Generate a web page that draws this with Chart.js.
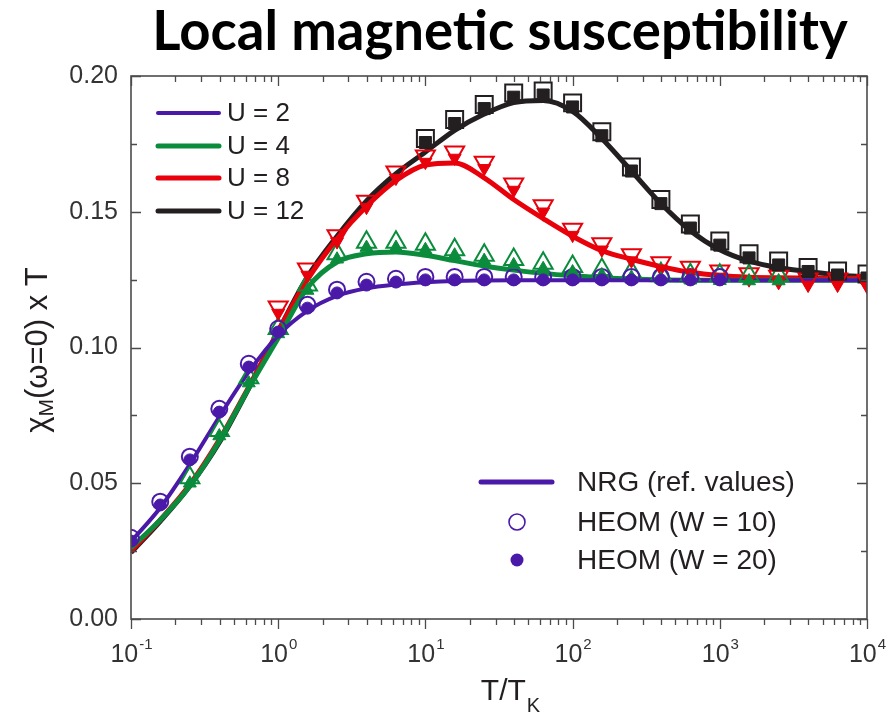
<!DOCTYPE html>
<html>
<head>
<meta charset="utf-8">
<script src="https://cdn.jsdelivr.net/npm/chart.js@4.4.1/dist/chart.umd.min.js"></script>
<style>
  html, body { margin: 0; padding: 0; background: #fff; }
  #wrap { width: 886px; height: 716px; }
</style>
</head>
<body>
<div id="wrap"><canvas id="chart" width="886" height="716"></canvas></div>
<script>
// T/TK values of the HEOM points (5 per decade) and NRG curve samples
var tOverTk = [0.1, 0.158, 0.251, 0.398, 0.631, 1, 1.58, 2.51, 3.98, 6.31,
               10, 15.8, 25.1, 39.8, 63.1, 100, 158, 251, 398, 631,
               1000, 1580, 2510, 3980, 6310, 10000];

var uLabels = ['U = 2', 'U = 4', 'U = 8', 'U = 12'];
var xTickExp = [-1, 0, 1, 2, 3, 4];
var yTicks = [0.00, 0.05, 0.10, 0.15, 0.20];

// NRG reference curves, chi_M(w=0) x T
var nrgU2  = [0.0285, 0.041, 0.057, 0.0745, 0.091, 0.1045, 0.1135, 0.119, 0.1218, 0.1232,
              0.124, 0.1245, 0.1247, 0.1248, 0.1248, 0.1248, 0.1248, 0.1248, 0.1248, 0.1248,
              0.1248, 0.1248, 0.1248, 0.1248, 0.1248, 0.1248];
var nrgU4  = [0.0262, 0.0365, 0.049, 0.0655, 0.085, 0.1035, 0.122, 0.1315, 0.1345, 0.1352,
              0.134, 0.132, 0.130, 0.1285, 0.1273, 0.1264, 0.1257, 0.1252, 0.1249, 0.1248,
              0.1248, 0.1248, 0.1248, 0.1248, 0.1248, 0.1248];
var nrgU8  = [0.025, 0.0365, 0.0495, 0.066, 0.0855, 0.106, 0.125, 0.140, 0.152, 0.1615,
              0.1672, 0.168, 0.1625, 0.1545, 0.1475, 0.141, 0.1357, 0.1325, 0.1298, 0.1277,
              0.1265, 0.1259, 0.1257, 0.1256, 0.1255, 0.1255];
var nrgU12 = [0.0245, 0.036, 0.049, 0.065, 0.085, 0.106, 0.126, 0.141, 0.154, 0.164,
              0.172, 0.180, 0.186, 0.1902, 0.191, 0.187, 0.177, 0.165, 0.153, 0.143,
              0.136, 0.1318, 0.1294, 0.128, 0.1267, 0.126];

// HEOM, W = 20 (filled symbols)
var heomW20U2  = [0.0287, 0.042, 0.0586, 0.0762, 0.0928, 0.1057, 0.1145, 0.1201, 0.123, 0.1241,
                  0.1249, 0.1249, 0.1249, 0.1249, 0.1249, 0.1249, 0.1249, 0.1249, 0.1249, 0.1249,
                  0.1249, null, null, null, null, null];
var heomW20U4  = [null, null, 0.050, 0.0674, 0.0869, 0.105, 0.121, 0.1325, 0.1368, 0.1368,
                  0.136, 0.134, 0.132, 0.1304, 0.129, 0.1278, 0.1267, 0.1258, 0.1252, 0.1248,
                  0.1246, 0.1245, 0.1245, null, null, null];
var heomW20U8  = [null, null, null, null, null, 0.1127, 0.1267, 0.139, 0.1517, 0.1624,
                  0.1683, 0.1698, 0.166, 0.158, 0.150, 0.1414, 0.136, 0.132, 0.129, 0.1274,
                  0.126, 0.125, 0.124, 0.123, 0.123, 0.1225];
var heomW20U12 = [null, null, null, null, null, null, null, null, null, null,
                  0.1755, 0.1825, 0.188, 0.1922, 0.193, 0.1886, 0.178, 0.165, 0.153, 0.144,
                  0.1377, 0.133, 0.1304, 0.128, 0.1267, 0.1256];

// HEOM, W = 10 (open symbols)
var heomW10U2  = [0.0299, 0.0432, 0.0598, 0.0774, 0.094, 0.1069, 0.1157, 0.1213, 0.1242, 0.1253,
                  0.126, 0.126, 0.126, 0.126, 0.126, 0.126, 0.126, 0.126, 0.126, 0.126,
                  0.126, null, null, null, null, null];
var heomW10U4  = [null, null, 0.052, 0.0694, 0.0889, 0.107, 0.123, 0.1345, 0.1388, 0.1388,
                  0.138, 0.136, 0.134, 0.1324, 0.131, 0.1298, 0.1287, 0.1278, 0.1272, 0.1268,
                  0.1266, 0.1265, 0.1265, null, null, null];
var heomW10U8  = [null, null, null, null, null, 0.1149, 0.1289, 0.1412, 0.1539, 0.1646,
                  0.1705, 0.172, 0.1682, 0.1602, 0.1522, 0.1436, 0.1382, 0.1342, 0.1312, 0.1296,
                  0.1282, 0.1272, 0.1262, 0.1252, 0.1252, 0.1247];
var heomW10U12 = [null, null, null, null, null, null, null, null, null, null,
                  0.177, 0.184, 0.1895, 0.1937, 0.1945, 0.1901, 0.1795, 0.1665, 0.1545, 0.1455,
                  0.1392, 0.1345, 0.1319, 0.1295, 0.1282, 0.1271];

var nrg = [nrgU2, nrgU4, nrgU8, nrgU12];
var heomW20 = [heomW20U2, heomW20U4, heomW20U8, heomW20U12];
var heomW10 = [heomW10U2, heomW10U4, heomW10U8, heomW10U12];

var colors = ['#4a19a8', '#0a8c3c', '#e8000b', '#231f20'];
var lineWidths = [4, 5, 5, 5];
var styles = ['circle', 'triangle', 'triangle', 'rect'];
var rotations = [0, 0, 180, 0];
var openRadius = [8, 11, 11, 12];
var filledRadius = [6, 7.5, 7.5, 8.5];

var axisColor = '#4d4a4a';
var textColor = '#231f20';
var sans = '"Liberation Sans", Arial, sans-serif';

function points(ys) {
  var out = [];
  for (var i = 0; i < tOverTk.length; i++) {
    if (ys[i] !== null) out.push({ x: tOverTk[i], y: ys[i] });
  }
  return out;
}

var datasets = [];
for (var i = 0; i < 4; i++) {
  datasets.push({
    label: 'HEOM (W = 20) ' + uLabels[i],
    data: points(heomW20[i]),
    showLine: false,
    pointStyle: styles[i],
    pointRotation: rotations[i],
    pointRadius: filledRadius[i],
    pointBackgroundColor: colors[i],
    pointBorderColor: colors[i],
    pointBorderWidth: 1,
    order: 1
  });
}
for (var i = 0; i < 4; i++) {
  datasets.push({
    label: 'HEOM (W = 10) ' + uLabels[i],
    data: points(heomW10[i]),
    showLine: false,
    pointStyle: styles[i],
    pointRotation: rotations[i],
    pointRadius: openRadius[i],
    pointBackgroundColor: 'rgba(255,255,255,0)',
    pointBorderColor: colors[i],
    pointBorderWidth: 2,
    order: 2
  });
}
for (var i = 0; i < 4; i++) {
  datasets.push({
    label: uLabels[i],
    data: points(nrg[i]),
    borderColor: colors[i],
    borderWidth: lineWidths[i],
    pointRadius: 0,
    cubicInterpolationMode: 'monotone',
    fill: false,
    order: 3
  });
}

// frame, inward/outward tick marks, x tick labels, axis titles, legends, title
var decorPlugin = {
  id: 'decor',
  afterDraw: function (chart) {
    var ctx = chart.ctx;
    var a = chart.chartArea;
    var xs = chart.scales.x;
    var ys = chart.scales.y;
    ctx.save();

    // frame
    ctx.strokeStyle = axisColor;
    ctx.lineWidth = 1.6;
    ctx.strokeRect(a.left, a.top, a.right - a.left, a.bottom - a.top);

    // x ticks: bottom outward, top inward
    ctx.lineWidth = 1.3;
    ctx.beginPath();
    for (var k = -1; k <= 4; k++) {
      for (var m = 1; m <= 9; m++) {
        var v = m * Math.pow(10, k);
        if (v > 10000) break;
        var px = Math.round(xs.getPixelForValue(v)) + 0.5;
        var len = m === 1 ? 10 : 6;
        ctx.moveTo(px, a.bottom); ctx.lineTo(px, a.bottom + len);
        ctx.moveTo(px, a.top); ctx.lineTo(px, a.top + len);
      }
    }
    // y ticks: both sides inward
    for (var j = 0; j <= 8; j++) {
      var yv = j * 0.025;
      var py = Math.round(ys.getPixelForValue(yv)) + 0.5;
      var ylen = j % 2 === 0 ? 10 : 6;
      ctx.moveTo(a.left, py); ctx.lineTo(a.left + ylen, py);
      ctx.moveTo(a.right, py); ctx.lineTo(a.right - ylen, py);
    }
    ctx.stroke();

    // x tick labels 10^k
    ctx.fillStyle = '#333';
    ctx.textBaseline = 'alphabetic';
    ctx.textAlign = 'left';
    xTickExp.forEach(function (e) {
      var px = xs.getPixelForValue(Math.pow(10, e));
      ctx.font = '25px ' + sans;
      var wb = ctx.measureText('10').width;
      ctx.font = '15px ' + sans;
      var we = ctx.measureText(String(e)).width;
      var x0 = px - (wb + we) / 2;
      ctx.font = '25px ' + sans;
      ctx.fillText('10', x0, 662);
      ctx.font = '15px ' + sans;
      ctx.fillText(String(e), x0 + wb + 1, 649);
    });

    // x axis title T/T_K
    ctx.fillStyle = textColor;
    ctx.font = '30px ' + sans;
    var wT = ctx.measureText('T/T').width;
    ctx.font = '20px ' + sans;
    var wK = ctx.measureText('K').width;
    var xt = 510 - (wT + wK) / 2;
    ctx.font = '30px ' + sans;
    ctx.fillText('T/T', xt, 700);
    ctx.font = '20px ' + sans;
    ctx.fillText('K', xt + wT + 1, 712);

    // y axis title chi_M(w=0) x T
    ctx.save();
    ctx.translate(38, 350);
    ctx.rotate(-Math.PI / 2);
    ctx.textBaseline = 'middle';
    ctx.font = '31px ' + sans;
    var w1 = ctx.measureText('\u03c7').width;
    var w3 = ctx.measureText('(\u03c9=0) x T').width;
    ctx.font = '21px ' + sans;
    var w2 = ctx.measureText('M').width;
    var start = -(w1 + w2 + w3) / 2;
    ctx.font = '31px ' + sans;
    ctx.fillText('\u03c7', start, 0);
    ctx.font = '21px ' + sans;
    ctx.fillText('M', start + w1, 9);
    ctx.font = '31px ' + sans;
    ctx.fillText('(\u03c9=0) x T', start + w1 + w2, 0);
    ctx.restore();

    // legend: U values
    ctx.textBaseline = 'middle';
    ctx.lineCap = 'round';
    var ly = [113, 146, 178, 211];
    for (var n = 0; n < 4; n++) {
      ctx.strokeStyle = colors[n];
      ctx.lineWidth = lineWidths[n];
      ctx.beginPath();
      ctx.moveTo(158, ly[n]); ctx.lineTo(219, ly[n]);
      ctx.stroke();
      ctx.fillStyle = textColor;
      ctx.font = '26px ' + sans;
      ctx.fillText(uLabels[n], 227, ly[n] + 1);
    }

    // legend: methods
    ctx.strokeStyle = colors[0];
    ctx.lineWidth = 5;
    ctx.beginPath();
    ctx.moveTo(481, 482); ctx.lineTo(552, 482);
    ctx.stroke();
    ctx.lineWidth = 1.6;
    ctx.beginPath();
    ctx.arc(517, 522, 8, 0, Math.PI * 2);
    ctx.stroke();
    ctx.fillStyle = colors[0];
    ctx.beginPath();
    ctx.arc(517, 560, 6.5, 0, Math.PI * 2);
    ctx.fill();
    ctx.fillStyle = textColor;
    ctx.font = '28px ' + sans;
    ctx.fillText('NRG (ref. values)', 577, 483);
    ctx.fillText('HEOM (W = 10)', 577, 523);
    ctx.fillText('HEOM (W = 20)', 577, 561);

    // title
    var title = 'Local magnetic susceptibility';
    ctx.font = 'bold 50px Lato, "Open Sans", sans-serif';
    var tw = ctx.measureText(title).width;
    var fs = 50 * 696 / tw;
    ctx.font = 'bold ' + fs.toFixed(1) + 'px Lato, "Open Sans", sans-serif';
    ctx.fillStyle = '#000';
    ctx.textAlign = 'center';
    ctx.textBaseline = 'alphabetic';
    ctx.fillText(title, 500, 50);

    ctx.restore();
  }
};

new Chart(document.getElementById('chart'), {
  type: 'line',
  data: { datasets: datasets },
  options: {
    responsive: false,
    animation: false,
    events: [],
    devicePixelRatio: 1,
    layout: { padding: { left: 0, right: 19, top: 76, bottom: 0 } },
    plugins: {
      legend: { display: false },
      title: { display: false },
      tooltip: { enabled: false }
    },
    scales: {
      x: {
        type: 'logarithmic',
        min: 0.1,
        max: 10000,
        grid: { display: false, drawTicks: false },
        border: { display: false },
        ticks: { display: false },
        afterFit: function (s) { s.height = 97; s.paddingLeft = 0; s.paddingRight = 0; }
      },
      y: {
        type: 'linear',
        min: 0,
        max: 0.2,
        afterBuildTicks: function (s) { s.ticks = yTicks.map(function (v) { return { value: v }; }); },
        grid: { display: false, drawTicks: false },
        border: { display: false },
        ticks: {
          color: '#333',
          padding: 13,
          font: { family: sans, size: 25 },
          callback: function (v) { return v.toFixed(2); }
        },
        afterFit: function (s) { s.width = 131; s.paddingTop = 0; s.paddingBottom = 0; }
      }
    }
  },
  plugins: [decorPlugin]
});
</script>
</body>
</html>
